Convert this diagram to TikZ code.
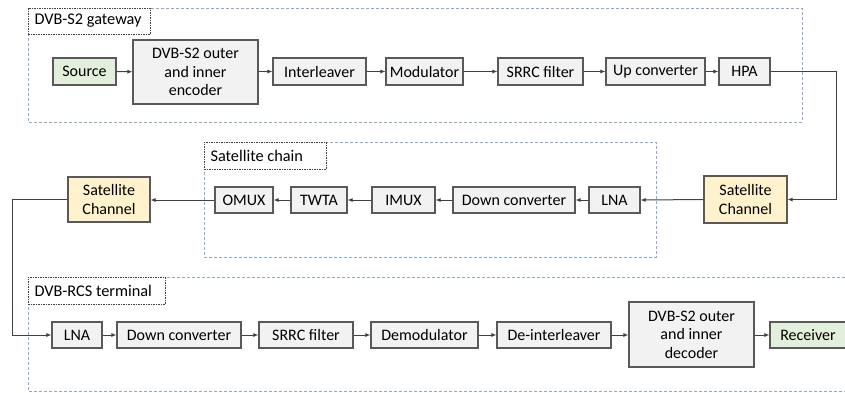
\documentclass[tikz,border=0pt]{standalone}
\usepackage{fontspec}
\setmainfont{Carlito}
\usetikzlibrary{arrows.meta}
\definecolor{boxfill}{HTML}{F2F2F2}
\definecolor{boxline}{HTML}{595959}
\definecolor{srcfill}{HTML}{E2EFDA}
\definecolor{satfill}{HTML}{FFF2CC}
\definecolor{grpline}{HTML}{8EA9C8}
\definecolor{conn}{HTML}{404040}
\begin{document}
\begin{tikzpicture}[x=1pt,y=-1pt,
  font=\fontsize{16}{18.5}\selectfont,
  blk/.style={draw=boxline, fill=boxfill, line width=1.1pt, inner sep=0pt, align=center, minimum height=27pt},
  srcblk/.style={blk, fill=srcfill},
  satblk/.style={blk, fill=satfill},
  grp/.style={draw=grpline, line width=1pt, dash pattern=on 3pt off 2pt},
  grplabel/.style={draw=conn, line width=0.9pt, dash pattern=on 1.5pt off 1pt, fill=white, inner sep=0pt, anchor=north west, text depth=0pt},
  lbltext/.style={anchor=west, font=\fontsize{16.3}{18.5}\selectfont},
  flow/.style={draw=conn, line width=1pt, -{Latex[length=5pt,width=4pt]}},
  wire/.style={draw=conn, line width=1pt}
]
\useasboundingbox (0,0) rectangle (845,392);
\clip (0,0) rectangle (845,392);
\fill[white] (0,0) rectangle (845,392);

% group frames
\draw[grp] (28,8) rectangle (802,122);
\draw[grp] (204,142) rectangle (656,257);
\draw[grp] (28,277) rectangle (860,391);

\node[grplabel, minimum width=122pt, minimum height=26pt] (lg) at (28,8) {};
\node[lbltext] (lgt) at (31,21) {DVB-S2 gateway};
\node[grplabel, minimum width=122pt, minimum height=27pt] (ls) at (204,142) {};
\node[lbltext] (lst) at (207,155.5) {Satellite chain};
\node[grplabel, minimum width=137pt, minimum height=27pt] (lt) at (28,277) {};
\node[lbltext] (ltt) at (31,290.5) {DVB-RCS terminal};

% top row
\node[srcblk, minimum width=63pt] (src) at (84.5,71.5) {Source};
\node[blk, minimum width=125pt, minimum height=64pt] (enc) at (195.5,72) {DVB-S2 outer\\and inner\\encoder};
\node[blk, minimum width=93pt] (intl) at (319.5,71.5) {Interleaver};
\node[blk, minimum width=77pt] (mod) at (424.5,71.5) {Modulator};
\node[blk, minimum width=85pt] (srrc1) at (540.5,71.5) {SRRC filter};
\node[blk, minimum width=99pt] (upc) at (655.5,71.5) {Up converter};
\node[blk, minimum width=51pt] (hpa) at (744.5,71.5) {HPA};

% middle row
\node[satblk, minimum width=82pt, minimum height=45pt] (satl) at (109,199.5) {Satellite\\Channel};
\node[blk, minimum width=58pt, minimum height=26pt] (omux) at (244,200) {OMUX};
\node[blk, minimum width=56pt, minimum height=26pt] (twta) at (319,200) {TWTA};
\node[blk, minimum width=63pt, minimum height=26pt] (imux) at (403.5,200) {IMUX};
\node[blk, minimum width=122pt, minimum height=26pt] (dnc1) at (514,200) {Down converter};
\node[blk, minimum width=51pt, minimum height=26pt] (lna1) at (614.5,200) {LNA};
\node[satblk, minimum width=83pt, minimum height=47pt] (satr) at (745.5,199.5) {Satellite\\Channel};

% bottom row
\node[blk, minimum width=50pt, minimum height=26pt] (lna2) at (77,335) {LNA};
\node[blk, minimum width=124pt, minimum height=26pt] (dnc2) at (179,335) {Down converter};
\node[blk, minimum width=94pt, minimum height=26pt] (srrc2) at (306,335) {SRRC filter};
\node[blk, minimum width=107pt, minimum height=26pt] (dem) at (424.5,335) {Demodulator};
\node[blk, minimum width=114pt, minimum height=26pt] (dint) at (554,335) {De-interleaver};
\node[blk, minimum width=125pt, minimum height=65pt] (dec) at (691.5,334.5) {DVB-S2 outer\\and inner\\decoder};
\node[srcblk, minimum width=76pt, minimum height=26pt] (rcv) at (808,335) {Receiver};

\coordinate (c1) at (836,71.5);
\coordinate (c2) at (836,199.5);
\coordinate (c3) at (12,199.5);
\coordinate (c4) at (12,335);

% connectors
\draw[flow] (src) -- (enc);
\draw[flow] (enc.east |- intl) -- (intl);
\draw[flow] (intl) -- (mod);
\draw[flow] (mod) -- (srrc1);
\draw[flow] (srrc1) -- (upc);
\draw[flow] (upc) -- (hpa);
\draw[flow] (hpa.east) -- (c1) -- (c2) -- (satr.east);
\draw[flow] (satr.west) -- (lna1.east);
\draw[flow] (lna1) -- (dnc1);
\draw[flow] (dnc1) -- (imux);
\draw[flow] (imux) -- (twta);
\draw[flow] (twta) -- (omux);
\draw[flow] (omux.west) -- (omux.west -| satl.east);
\draw[flow] (satl.west) -- (c3) -- (c4) -- (lna2.west);
\draw[flow] (lna2) -- (dnc2);
\draw[flow] (dnc2) -- (srrc2);
\draw[flow] (srrc2) -- (dem);
\draw[flow] (dem) -- (dint);
\draw[flow] (dint.east) -- (dint.east -| dec.west);
\draw[flow] (dec.east |- rcv) -- (rcv.west);
\end{tikzpicture}
\end{document}
